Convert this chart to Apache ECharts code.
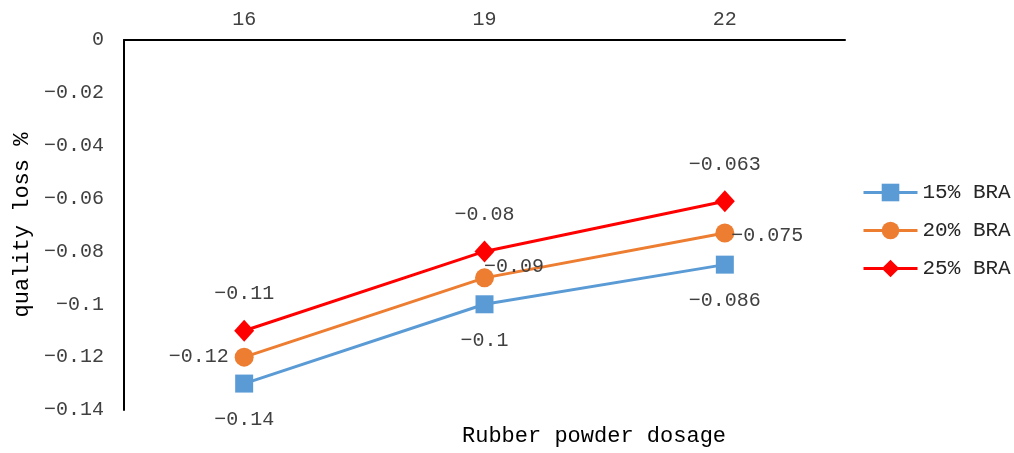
<!DOCTYPE html>
<html>
<head>
<meta charset="utf-8">
<script src="https://cdn.jsdelivr.net/npm/echarts@6/dist/echarts.min.js"></script>
<style>html,body{margin:0;padding:0;background:#fff}#c{width:1014px;height:453px}</style>
</head>
<body>
<div id="c"></div>
<script>
var categories = ['16', '19', '22'];
var seriesNames = ['15% BRA', '20% BRA', '25% BRA'];
var values15 = [-0.13, -0.10, -0.085];
var values20 = [-0.12, -0.09, -0.073];
var values25 = [-0.11, -0.08, -0.061];
var labels15 = ['−0.14', '−0.1', '−0.086'];
var labels20 = ['−0.12', '−0.09', '−0.075'];
var labels25 = ['−0.11', '−0.08', '−0.063'];
var yTickValues = [0, -0.02, -0.04, -0.06, -0.08, -0.1, -0.12, -0.14];
var xTitle = 'Rubber powder dosage';
var yTitle = 'quality loss %';

var FONT = 'Liberation Mono';
var TXT = '#404040';

function fmtTick(v) {
  var r = Math.round(v * 100) / 100;
  if (r === 0) return '0';
  return (r < 0 ? '−' : '') + String(Math.abs(r));
}

function build(values, labels, labelCfgs) {
  return values.map(function (v, i) {
    var cfg = labelCfgs[i];
    return {
      value: v,
      label: {
        show: true,
        formatter: labels[i],
        position: cfg.position,
        distance: cfg.distance,
        offset: cfg.offset || [0, 0]
      }
    };
  });
}

var chart = echarts.init(document.getElementById('c'), null, { renderer: 'canvas' });
var labelStyle = { fontFamily: FONT, fontSize: 20, color: TXT };

chart.setOption({
  animation: false,
  backgroundColor: '#ffffff',
  textStyle: { fontFamily: FONT },
  grid: { left: 124, right: 169, top: 40, bottom: 43, containLabel: false },
  title: {
    text: xTitle,
    left: 462,
    top: 425,
    padding: 0,
    textStyle: { fontFamily: FONT, fontSize: 22, fontWeight: 'normal', color: '#000' }
  },
  legend: {
    orient: 'vertical',
    left: 862,
    top: 182,
    padding: 0,
    itemWidth: 54,
    itemHeight: 22,
    itemGap: 17,
    data: seriesNames,
    lineStyle: { width: 3 },
    textStyle: { fontFamily: FONT, fontSize: 21, color: '#262626' }
  },
  xAxis: {
    type: 'category',
    position: 'top',
    data: categories,
    boundaryGap: true,
    axisLine: { show: true, lineStyle: { color: '#000', width: 2 } },
    axisTick: { show: false },
    axisLabel: { fontFamily: FONT, fontSize: 20, color: TXT, margin: 10 },
    splitLine: { show: false }
  },
  yAxis: {
    type: 'value',
    min: -0.14,
    max: 0,
    interval: 0.02,
    name: yTitle,
    nameLocation: 'middle',
    nameGap: 90,
    nameTextStyle: { fontFamily: FONT, fontSize: 22, color: '#000' },
    axisLine: { show: true, lineStyle: { color: '#000', width: 2 } },
    axisTick: { show: false },
    splitLine: { show: false },
    axisLabel: {
      fontFamily: FONT, fontSize: 20, color: TXT, margin: 20,
      formatter: function (v) { return fmtTick(v); }
    }
  },
  series: [
    {
      name: seriesNames[0], type: 'line', data: build(values15, labels15, [
        { position: 'bottom', distance: 17 },
        { position: 'bottom', distance: 17 },
        { position: 'bottom', distance: 17 }
      ]),
      symbol: 'rect', symbolSize: 18,
      itemStyle: { color: '#5B9BD5' },
      lineStyle: { color: '#5B9BD5', width: 3 },
      label: labelStyle, z: 2
    },
    {
      name: seriesNames[1], type: 'line', data: build(values20, labels20, [
        { position: 'left', distance: 6 },
        { position: 'right', distance: 0, offset: [-10, -11] },
        { position: 'right', distance: 0, offset: [-3, 3] }
      ]),
      symbol: 'circle', symbolSize: 19,
      itemStyle: { color: '#ED7D31' },
      lineStyle: { color: '#ED7D31', width: 3 },
      label: labelStyle, z: 3
    },
    {
      name: seriesNames[2], type: 'line', data: build(values25, labels25, [
        { position: 'top', distance: 16 },
        { position: 'top', distance: 16 },
        { position: 'top', distance: 16 }
      ]),
      symbol: 'diamond', symbolSize: [20, 22],
      itemStyle: { color: '#FF0000' },
      lineStyle: { color: '#FF0000', width: 3 },
      label: labelStyle, z: 4
    }
  ]
});
</script>
</body>
</html>
